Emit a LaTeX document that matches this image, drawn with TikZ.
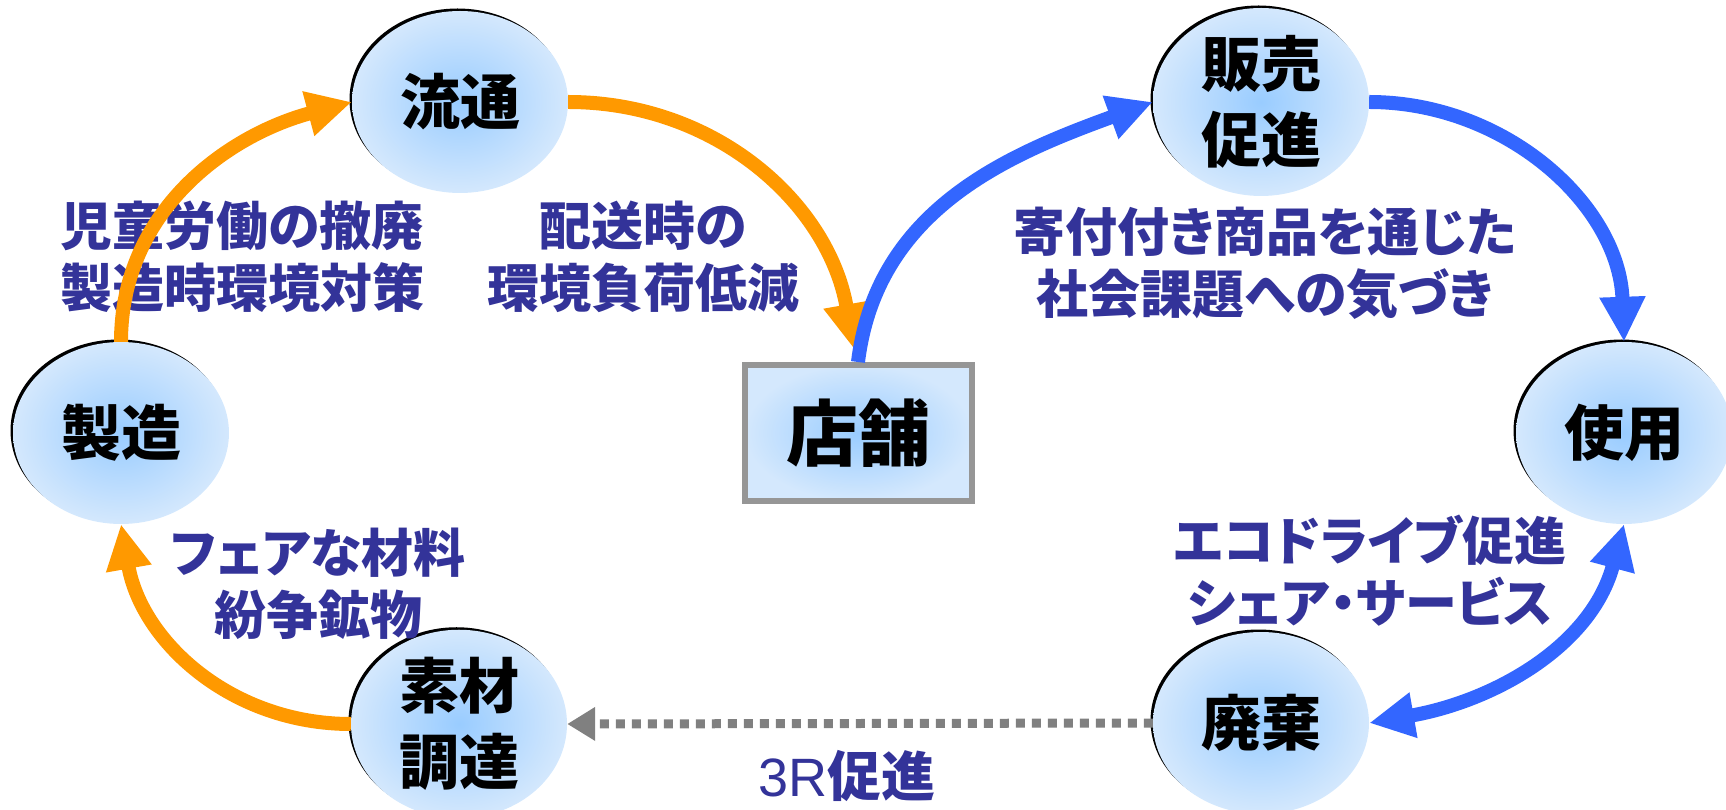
\documentclass[tikz,border=0pt]{standalone}
\usepackage{fontspec}
\setmainfont{Noto Sans CJK JP}
\newfontfamily\pfont{Noto Sans CJK JP}[RawFeature=+palt]
\newfontfamily\arialf{Liberation Sans}
\usetikzlibrary{arrows.meta,shapes.geometric,calc,shadows}
\definecolor{orng}{HTML}{FF9900}
\definecolor{blu}{HTML}{3366FF}
\definecolor{lbl}{HTML}{333399}
\definecolor{gry}{HTML}{808080}
\definecolor{boxgray}{HTML}{969696}
\definecolor{cin}{HTML}{99CCFF}
\definecolor{cout}{HTML}{D4E8FD}
\begin{document}
\begin{tikzpicture}[x=1pt,y=1pt,
  stage/.style={ellipse, minimum width=216pt, minimum height=182pt, inner sep=0pt,
    shading=radial, inner color=cin, outer color=cout,
    drop shadow={shadow xshift=-2.5pt, shadow yshift=2.5pt, fill=black, opacity=1},
    font=\fontsize{60}{76}\selectfont\bfseries, align=center, text=black},
  storebox/.style={rectangle, minimum width=227pt, minimum height=136pt, inner sep=0pt,
    draw=boxgray, line width=6pt, shading=radial, inner color=cin, outer color=cout,
    font=\fontsize{72}{80}\selectfont\bfseries, text=black},
  lbltext/.style={text=lbl, font=\pfont\fontsize{52}{62}\selectfont\bfseries, align=center, inner sep=0pt},
  oarr/.style={draw=orng, line width=14pt, -{Triangle[length=45pt,width=43pt]}},
  barr/.style={draw=blu, line width=14pt, -{Triangle[length=45pt,width=43pt]}},
  bdarr/.style={draw=blu, line width=14pt, {Triangle[length=45pt,width=43pt]}-{Triangle[length=45pt,width=43pt]}},
  garr/.style={draw=gry, line width=9pt, dash pattern=on 9pt off 7pt, -{Triangle[length=28pt,width=32pt]}}
]
\useasboundingbox (0,0) rectangle (1726,809);
% stages
\node[stage] (ryu) at (460,707) {流通};
\node[stage] (han) at (1261,707) {販売\\促進};
\node[stage] (sei) at (121,376) {製造};
\node[stage] (shi) at (1624,376) {使用};
\node[stage] (soz) at (459,85) {素材\\調達};
\node[stage] (hai) at (1261,86) {廃棄};
\node[storebox] (store) at (858,376) {店舗};
% labels
\node[lbltext] (t1) at (242,552) {児童労働の撤廃\\製造時環境対策};
\node[lbltext] (t2) at (643,552) {配送時の\\環境負荷低減};
\node[lbltext] (t3) at (1265,546) {寄付付き商品を通じた\\社会課題への気づき};
\node[lbltext] (t4) at (1370,238) {エコドライブ促進\\シェア・サービス};
\node[lbltext] (t5) at (318,225) {フェアな材料\\紛争鉱物};
\node[text=lbl, inner sep=0pt, font=\fontsize{54}{60}\selectfont] (t6) at (847,33) {{\arialf 3R}\textbf{促進}};
% connectors
\coordinate (oend) at ($(store.north)+(-4,13)$);
\draw[oarr] (sei.north) to[out=90,in=195] (ryu.west);
\draw[oarr] (ryu.east) to[out=0,in=100] (oend);
\draw[oarr] (soz.west) to[out=180,in=280] (sei.south);
\draw[barr] (store.north) to[out=83,in=200] (han.west);
\draw[barr] (han.east) to[out=0,in=92] (shi.north);
\draw[bdarr] (hai.east) to[out=10,in=255] (shi.south);
\draw[garr] (hai.west) -- (soz.east);
\end{tikzpicture}
\end{document}
